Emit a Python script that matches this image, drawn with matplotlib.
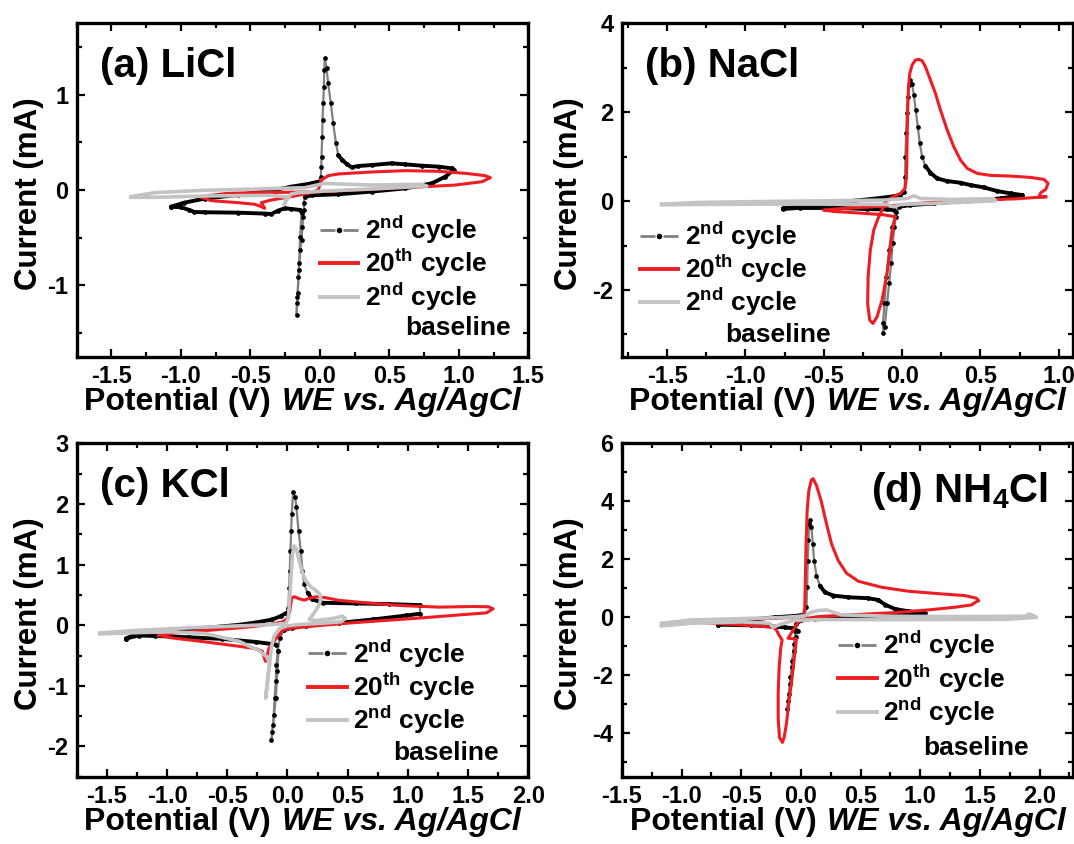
import numpy as np
import matplotlib
matplotlib.use("Agg")
import matplotlib.pyplot as plt
from matplotlib.collections import LineCollection
from matplotlib.lines import Line2D
from matplotlib.ticker import MultipleLocator, FormatStrFormatter

plt.rcParams['font.family'] = ['Liberation Sans', 'DejaVu Sans']
plt.rcParams['font.weight'] = 'bold'
plt.rcParams['axes.unicode_minus'] = False

# cyclic voltammograms: (potential V, current mA)
# (a) LiCl
licl_2nd = [(-1.071, -0.175), (-0.975, -0.133), (-0.830, -0.091), (-0.590, -0.052), (-0.349, -0.007),
            (-0.205, 0.035), (-0.084, 0.063), (-0.012, 0.087), (0.007, 0.140), (0.010, 0.245),
            (0.012, 0.350), (0.017, 0.559), (0.019, 0.734), (0.024, 0.909), (0.029, 1.084),
            (0.031, 1.259), (0.036, 1.381), (0.048, 1.276), (0.060, 1.119), (0.079, 0.909),
            (0.096, 0.699), (0.116, 0.490), (0.132, 0.367), (0.161, 0.315), (0.193, 0.273),
            (0.229, 0.238), (0.277, 0.252), (0.373, 0.262), (0.517, 0.280), (0.614, 0.269),
            (0.734, 0.255), (0.854, 0.245), (0.951, 0.227), (0.963, 0.210), (0.903, 0.140),
            (0.806, 0.070), (0.614, 0.017), (0.373, -0.017), (0.132, -0.045), (-0.060, -0.056),
            (-0.108, -0.070), (-0.116, -0.140), (-0.116, -0.210), (-0.120, -0.280), (-0.125, -0.385),
            (-0.132, -0.524), (-0.140, -0.629), (-0.147, -0.769), (-0.154, -0.909), (-0.159, -1.084),
            (-0.164, -1.189), (-0.168, -1.311), (-0.161, -1.119), (-0.152, -0.839), (-0.142, -0.490),
            (-0.132, -0.245), (-0.142, -0.210), (-0.205, -0.199), (-0.253, -0.192), (-0.301, -0.217),
            (-0.349, -0.252), (-0.397, -0.248), (-0.590, -0.238), (-0.830, -0.234), (-0.903, -0.231),
            (-0.939, -0.210), (-0.999, -0.182), (-1.071, -0.175)]
licl_20th = [(0.012, 0.105), (0.060, 0.150), (0.132, 0.168), (0.373, 0.189), (0.614, 0.203),
             (0.854, 0.196), (1.047, 0.175), (1.191, 0.150), (1.227, 0.129), (1.167, 0.087),
             (0.975, 0.052), (0.758, 0.035), (0.493, 0.017), (0.253, 0.000), (0.012, -0.017),
             (-0.229, -0.024), (-0.469, -0.028), (-0.662, -0.035), (-0.782, -0.056), (-0.854, -0.077),
             (-0.782, -0.112), (-0.590, -0.133), (-0.469, -0.150), (-0.421, -0.175), (-0.397, -0.192),
             (-0.421, -0.133), (-0.349, -0.105), (-0.205, -0.070), (-0.060, -0.028), (-0.012, 0.000),
             (0.012, 0.105)]
licl_base = [(-1.360, -0.070), (-1.191, -0.028), (-0.830, -0.003), (-0.469, 0.010), (-0.108, 0.024),
             (0.036, 0.070), (0.132, 0.063), (0.373, 0.052), (0.734, 0.059), (0.770, 0.042),
             (0.373, 0.010), (0.084, -0.007), (-0.156, -0.028), (-0.205, -0.042), (-0.241, -0.105),
             (-0.258, -0.157), (-0.229, -0.077), (-0.349, -0.056), (-0.830, -0.063), (-1.191, -0.077),
             (-1.360, -0.077)]

# (b) NaCl
nacl_2nd = [(-0.761, -0.165), (-0.650, -0.113), (-0.437, -0.053), (-0.309, 0.008), (-0.181, 0.053),
            (-0.075, 0.098), (-0.011, 0.135), (0.015, 0.210), (0.019, 0.548), (0.021, 0.998),
            (0.026, 1.523), (0.030, 1.973), (0.036, 2.348), (0.045, 2.611), (0.053, 2.723),
            (0.064, 2.633), (0.075, 2.386), (0.087, 2.048), (0.100, 1.673), (0.113, 1.298),
            (0.128, 0.998), (0.149, 0.788), (0.181, 0.638), (0.224, 0.510), (0.288, 0.450),
            (0.373, 0.413), (0.437, 0.360), (0.522, 0.308), (0.608, 0.225), (0.693, 0.173),
            (0.768, 0.135), (0.629, 0.060), (0.416, 0.008), (0.203, -0.053), (0.053, -0.090),
            (-0.021, -0.128), (-0.036, -0.240), (-0.064, -0.578), (-0.083, -1.103), (-0.100, -1.703),
            (-0.113, -2.303), (-0.122, -2.753), (-0.119, -2.978), (-0.111, -2.828), (-0.096, -2.303),
            (-0.083, -1.853), (-0.070, -1.403), (-0.060, -0.953), (-0.049, -0.578), (-0.041, -0.353),
            (-0.053, -0.203), (-0.096, -0.188), (-0.224, -0.180), (-0.437, -0.150), (-0.650, -0.150),
            (-0.761, -0.180)]
nacl_20th = [(0.917, 0.098), (0.736, 0.053), (0.522, 0.023), (0.309, -0.008), (0.096, -0.053),
             (-0.053, -0.098), (-0.181, -0.128), (-0.330, -0.158), (-0.437, -0.180), (-0.501, -0.203),
             (-0.437, -0.233), (-0.267, -0.270), (-0.117, -0.308), (-0.043, -0.353), (-0.058, -0.578),
             (-0.075, -1.028), (-0.096, -1.628), (-0.128, -2.228), (-0.160, -2.603), (-0.186, -2.753),
             (-0.207, -2.678), (-0.220, -2.303), (-0.217, -1.703), (-0.203, -1.103), (-0.181, -0.653),
             (-0.154, -0.390), (-0.128, -0.203), (-0.107, -0.015), (-0.064, 0.083), (-0.011, 0.173),
             (0.019, 0.285), (0.028, 0.548), (0.030, 0.848), (0.032, 1.448), (0.036, 2.048),
             (0.041, 2.573), (0.049, 2.873), (0.064, 3.061), (0.085, 3.173), (0.107, 3.188),
             (0.128, 3.158), (0.149, 3.023), (0.181, 2.723), (0.213, 2.423), (0.245, 2.048),
             (0.288, 1.598), (0.330, 1.223), (0.373, 0.923), (0.416, 0.735), (0.480, 0.623),
             (0.565, 0.578), (0.693, 0.563), (0.821, 0.533), (0.906, 0.488), (0.932, 0.398),
             (0.917, 0.263), (0.885, 0.188), (0.874, 0.098), (0.917, 0.098)]
nacl_base = [(-1.535, -0.068), (-1.290, -0.030), (-0.864, -0.008), (-0.437, 0.008), (-0.117, 0.023),
             (0.032, 0.060), (0.075, 0.120), (0.117, 0.060), (0.309, 0.038), (0.586, 0.053),
             (0.597, 0.008), (0.309, -0.038), (-0.011, -0.075), (-0.053, -0.128), (-0.096, -0.075),
             (-0.437, -0.068), (-0.864, -0.068), (-1.290, -0.075), (-1.535, -0.083)]

# (c) KCl
kcl_2nd = [(-1.342, -0.221), (-1.236, -0.127), (-0.958, -0.083), (-0.681, -0.044), (-0.403, 0.006),
           (-0.264, 0.044), (-0.125, 0.094), (-0.056, 0.149), (-0.008, 0.204), (0.008, 0.287),
           (0.014, 0.619), (0.019, 0.895), (0.025, 1.227), (0.031, 1.558), (0.036, 1.834),
           (0.047, 2.204), (0.064, 2.110), (0.075, 1.945), (0.092, 1.558), (0.111, 1.227),
           (0.125, 0.895), (0.139, 0.674), (0.167, 0.536), (0.208, 0.425), (0.292, 0.370),
           (0.569, 0.359), (0.847, 0.348), (1.097, 0.331), (1.097, 0.188), (0.986, 0.160),
           (0.708, 0.094), (0.431, 0.039), (0.153, -0.006), (0.042, -0.044), (-0.028, -0.077),
           (-0.064, -0.210), (-0.081, -0.431), (-0.092, -0.652), (-0.097, -0.928), (-0.106, -1.204),
           (-0.114, -1.481), (-0.125, -1.757), (-0.133, -1.895), (-0.119, -1.646), (-0.097, -1.204),
           (-0.083, -0.762), (-0.075, -0.431), (-0.092, -0.320), (-0.264, -0.276), (-0.542, -0.227),
           (-0.819, -0.199), (-1.097, -0.177), (-1.236, -0.171), (-1.342, -0.221)]
kcl_20th = [(-1.069, -0.166), (-0.958, -0.133), (-0.681, -0.088), (-0.403, -0.044), (-0.264, -0.017),
            (-0.125, 0.022), (-0.042, 0.055), (0.000, 0.110), (0.019, 0.232), (0.036, 0.453),
            (0.056, 0.470), (0.097, 0.436), (0.139, 0.414), (0.181, 0.442), (0.236, 0.470),
            (0.319, 0.453), (0.431, 0.409), (0.708, 0.359), (0.986, 0.320), (1.264, 0.298),
            (1.542, 0.309), (1.667, 0.304), (1.708, 0.271), (1.653, 0.204), (1.403, 0.166),
            (1.125, 0.122), (0.847, 0.083), (0.569, 0.044), (0.292, 0.000), (0.125, -0.033),
            (0.014, -0.055), (-0.042, -0.088), (-0.069, -0.155), (-0.111, -0.265), (-0.153, -0.376),
            (-0.167, -0.486), (-0.181, -0.597), (-0.192, -0.541), (-0.208, -0.431), (-0.264, -0.387),
            (-0.403, -0.348), (-0.681, -0.276), (-0.958, -0.210), (-1.069, -0.166)]
kcl_base = [(-1.556, -0.127), (-1.236, -0.083), (-0.819, -0.044), (-0.403, -0.011), (-0.125, 0.011),
            (-0.014, 0.028), (0.008, 0.122), (0.019, 0.453), (0.031, 0.840), (0.042, 1.171),
            (0.056, 1.309), (0.075, 1.254), (0.097, 1.061), (0.125, 0.867), (0.153, 0.729),
            (0.194, 0.630), (0.236, 0.575), (0.269, 0.508), (0.278, 0.425), (0.258, 0.315),
            (0.222, 0.204), (0.181, 0.094), (0.236, 0.077), (0.375, 0.110), (0.458, 0.149),
            (0.481, 0.110), (0.444, 0.055), (0.292, 0.033), (0.097, 0.011), (0.000, -0.011),
            (-0.069, -0.055), (-0.111, -0.182), (-0.131, -0.348), (-0.147, -0.597), (-0.161, -0.818),
            (-0.172, -1.039), (-0.181, -1.204), (-0.164, -0.928), (-0.147, -0.624), (-0.175, -0.514),
            (-0.236, -0.420), (-0.403, -0.265), (-0.681, -0.138), (-0.958, -0.110), (-1.236, -0.122),
            (-1.556, -0.144)]

# (d) NH4Cl
nh4cl_2nd = [(-0.694, -0.252), (-0.498, -0.114), (-0.218, 0.001), (-0.051, 0.047), (0.033, 0.093),
             (0.047, 0.347), (0.053, 1.038), (0.058, 1.959), (0.064, 2.650), (0.069, 3.225),
             (0.078, 3.340), (0.089, 3.110), (0.100, 2.534), (0.111, 1.959), (0.131, 1.441),
             (0.159, 1.095), (0.201, 0.865), (0.271, 0.750), (0.396, 0.692), (0.564, 0.658),
             (0.648, 0.600), (0.704, 0.439), (0.788, 0.289), (0.899, 0.209), (1.039, 0.140),
             (0.899, 0.093), (0.620, 0.047), (0.341, 0.001), (0.117, -0.045), (0.005, -0.091),
             (-0.037, -0.229), (-0.045, -0.459), (-0.056, -0.920), (-0.073, -1.496), (-0.087, -2.072),
             (-0.101, -2.648), (-0.112, -3.166), (-0.107, -2.878), (-0.090, -2.302), (-0.073, -1.726),
             (-0.056, -1.151), (-0.042, -0.690), (-0.028, -0.459), (-0.065, -0.379), (-0.134, -0.347),
             (-0.218, -0.324), (-0.414, -0.278), (-0.694, -0.255)]
nh4cl_20th = [(1.486, 0.577), (1.430, 0.427), (1.290, 0.346), (1.067, 0.254), (0.787, 0.162),
              (0.564, 0.116), (0.340, 0.070), (0.145, 0.024), (0.033, -0.045), (-0.023, -0.172),
              (-0.107, -0.724), (-0.037, -0.747), (-0.051, -1.266), (-0.073, -2.072), (-0.099, -2.878),
              (-0.121, -3.684), (-0.140, -4.145), (-0.154, -4.318), (-0.179, -4.145), (-0.190, -3.454),
              (-0.190, -2.648), (-0.182, -1.727), (-0.168, -1.036), (-0.157, -0.783), (-0.185, -0.600),
              (-0.205, -0.438), (-0.233, -0.346), (-0.358, -0.300), (-0.638, -0.231), (-0.973, -0.137),
              (-0.638, -0.091), (-0.218, -0.033), (-0.023, 0.001), (0.024, 0.093), (0.033, 0.347),
              (0.038, 1.383), (0.044, 2.534), (0.053, 3.686), (0.067, 4.377), (0.089, 4.745),
              (0.103, 4.779), (0.131, 4.549), (0.173, 3.973), (0.215, 3.225), (0.257, 2.534),
              (0.313, 1.959), (0.383, 1.521), (0.481, 1.244), (0.676, 1.037), (0.900, 0.899),
              (1.179, 0.807), (1.374, 0.749), (1.472, 0.657), (1.486, 0.577)]
nh4cl_base = [(-1.168, -0.206), (-0.917, -0.091), (-0.498, -0.045), (-0.163, -0.010), (0.033, 0.047),
              (0.089, 0.174), (0.145, 0.232), (0.215, 0.255), (0.271, 0.174), (0.340, 0.082),
              (0.760, 0.036), (1.318, 0.024), (1.877, 0.036), (1.919, 0.116), (1.975, 0.001),
              (1.737, -0.068), (0.899, -0.079), (0.200, -0.079), (-0.051, -0.102), (-0.163, -0.229),
              (-0.233, -0.344), (-0.261, -0.206), (-0.498, -0.160), (-0.917, -0.206), (-1.168, -0.298)]

panels = [
    dict(pos=[0.0714, 0.5774, 0.4205, 0.395], xlim=(-1.75, 1.5), ylim=(-1.75, 1.75),
         xt=np.arange(-1.5, 1.51, 0.5), yt=[-1, 0, 1], xm=0.25, ym=0.5,
         curves=(licl_2nd, licl_20th, licl_base), title='(a) LiCl', tpos=(0.052, 0.84, 'left'),
         leg=(0.539, 0.43), base_txt=(0.727, 0.085), ylab=-0.072),
    dict(pos=[0.5789, 0.5774, 0.4200, 0.395], xlim=(-1.79, 1.09), ylim=(-3.5, 4),
         xt=np.arange(-1.5, 1.01, 0.5), yt=[-2, 0, 2, 4], xm=0.25, ym=1,
         curves=(nacl_2nd, nacl_20th, nacl_base), title='(b) NaCl', tpos=(0.052, 0.84, 'left'),
         leg=(0.041, 0.413), base_txt=(0.229, 0.065), ylab=-0.083),
    dict(pos=[0.0714, 0.0797, 0.4205, 0.395], xlim=(-1.75, 2.0), ylim=(-2.5, 3),
         xt=np.arange(-1.5, 2.01, 0.5), yt=[-2, -1, 0, 1, 2, 3], xm=0.25, ym=0.5,
         curves=(kcl_2nd, kcl_20th, kcl_base), title='(c) KCl', tpos=(0.052, 0.84, 'left'),
         leg=(0.513, 0.42), base_txt=(0.70, 0.07), ylab=-0.072),
    dict(pos=[0.5790, 0.0797, 0.4200, 0.395], xlim=(-1.5, 2.28), ylim=(-5.5, 6),
         xt=np.arange(-1.5, 2.01, 0.5), yt=[-4, -2, 0, 2, 4, 6], xm=0.25, ym=1,
         curves=(nh4cl_2nd, nh4cl_20th, nh4cl_base), title=r'(d) NH$_\mathregular{4}$Cl',
         tpos=(0.945, 0.825, 'right'), leg=(0.48, 0.445), base_txt=(0.668, 0.085), ylab=-0.083),
]

GRAY2 = '#808080'
RED = '#ee1d23'
LIGHT = '#c3c3c3'

fig = plt.figure(figsize=(10.74, 8.44), dpi=100)


def draw_second_cycle(ax, pts):
    # dense data points merge into a black trace; steep jumps show the grey line between dots
    xy = np.asarray(pts, dtype=float)
    disp = ax.transData.transform(xy)
    d = np.diff(disp, axis=0)
    steep = np.abs(d[:, 1]) > 1.5 * np.abs(d[:, 0])
    segs = np.stack([xy[:-1], xy[1:]], axis=1)
    lc = LineCollection(segs, colors=np.where(steep, GRAY2, 'black'),
                        linewidths=np.where(steep, 1.6, 2.8), capstyle='round', zorder=2)
    ax.add_collection(lc)
    ax.plot(xy[:, 0], xy[:, 1], 'o', color='black', ms=3.4, mew=0, zorder=2.1)


for p in panels:
    ax = fig.add_axes(p['pos'])
    ax.set_xlim(*p['xlim'])
    ax.set_ylim(*p['ylim'])

    c2, c20, cb = p['curves']
    draw_second_cycle(ax, c2)
    c20 = np.asarray(c20)
    ax.plot(c20[:, 0], c20[:, 1], color=RED, lw=2.2, zorder=3, solid_joinstyle='round')
    cb = np.asarray(cb)
    ax.plot(cb[:, 0], cb[:, 1], color=LIGHT, lw=2.6, zorder=4, solid_joinstyle='round')

    ax.set_xticks(p['xt'])
    ax.set_yticks(p['yt'])
    ax.xaxis.set_major_formatter(FormatStrFormatter('%.1f'))
    ax.yaxis.set_major_formatter(FormatStrFormatter('%d'))
    ax.xaxis.set_minor_locator(MultipleLocator(p['xm']))
    ax.yaxis.set_minor_locator(MultipleLocator(p['ym']))
    ax.tick_params(which='both', direction='in', top=True, right=True, width=1.6)
    ax.tick_params(which='major', length=6, labelsize=17, pad=6)
    ax.tick_params(which='minor', length=3.5)
    for lab in ax.get_xticklabels() + ax.get_yticklabels():
        lab.set_fontweight('bold')
    for s in ax.spines.values():
        s.set_linewidth(2.4)

    ax.set_ylabel('Current (mA)', fontsize=22.5, fontweight='bold')
    ax.yaxis.set_label_coords(p['ylab'], 0.49)
    t1 = ax.text(0.017, -0.16, 'Potential (V)', transform=ax.transAxes, ha='left',
                 va='baseline', fontsize=23, fontweight='bold')
    ax.annotate('WE vs. Ag/AgCl', xy=(1, 0), xycoords=t1, xytext=(8, 0),
                textcoords='offset points', ha='left', va='bottom', fontsize=23,
                fontweight='bold', fontstyle='italic')

    tx, ty, tha = p['tpos']
    ax.text(tx, ty, p['title'], transform=ax.transAxes, ha=tha, va='baseline',
            fontsize=29, fontweight='bold')

    h2 = (Line2D([], [], color=GRAY2, lw=2, dashes=(5.4, 2.9)),
          Line2D([], [], ls='none', marker='o', color='black', ms=4, mew=0))
    h20 = Line2D([], [], color=RED, lw=2.8)
    hb = Line2D([], [], color=LIGHT, lw=2.8)
    ax.legend([h2, h20, hb],
              ['2$^\\mathregular{nd}$ cycle', '20$^\\mathregular{th}$ cycle', '2$^\\mathregular{nd}$ cycle'],
              loc='upper left', bbox_to_anchor=p['leg'], frameon=False, borderpad=0,
              borderaxespad=0, handlelength=1.45, handletextpad=0.25, labelspacing=0.02,
              prop=dict(weight='bold', size=19))
    bx, by = p['base_txt']
    ax.text(bx, by, 'baseline', transform=ax.transAxes, ha='left', va='center',
            fontsize=19, fontweight='bold')

fig.savefig('out.png', dpi=100)
